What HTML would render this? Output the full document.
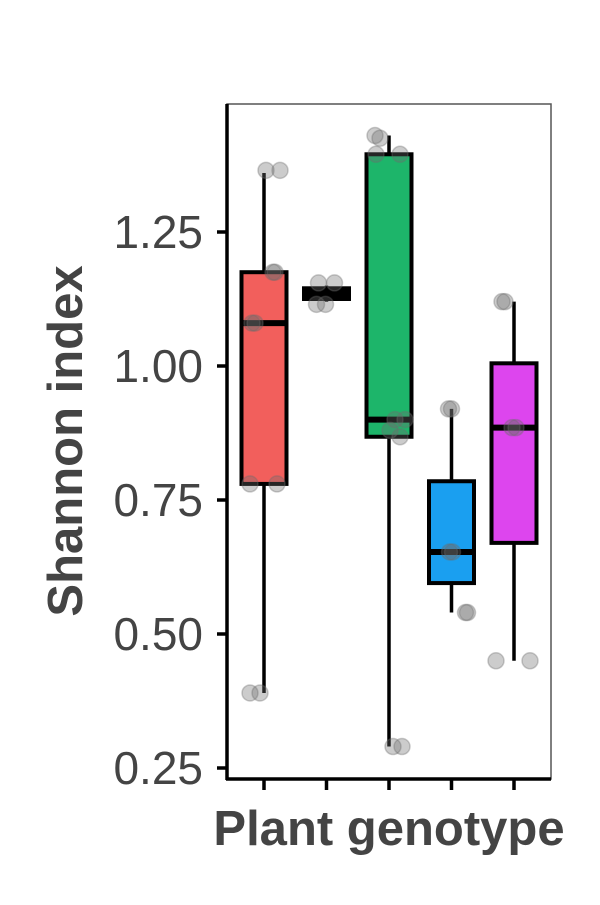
<!DOCTYPE html>
<html><head><meta charset="utf-8"><style>
body{margin:0;background:#fff;}
svg text{font-family:"Liberation Sans",Arial,sans-serif;}
</style></head><body>
<svg id="chart" width="600" height="900">
<rect x="227" y="104" width="324" height="675" fill="#fff" stroke="#555" stroke-width="1.5"/>
<g id="marks"></g>
<line x1="227" y1="104" x2="227" y2="780" stroke="#000" stroke-width="3.5"/>
<line x1="226" y1="779" x2="551" y2="779" stroke="#000" stroke-width="3.5"/>
<g id="axes"></g>
<text x="82" y="441" transform="rotate(-90 82 441)" text-anchor="middle" font-size="49" font-weight="bold" fill="#444">Shannon index</text>
<text x="389" y="845" text-anchor="middle" font-size="49" font-weight="bold" fill="#444">Plant genotype</text>
</svg>
<script>
const ticks=[0.25,0.5,0.75,1.0,1.25];
const tickLabels=["0.25","0.50","0.75","1.00","1.25"];
const groups=["g1","g2","g3","g4","g5"];
const colors=["#f25f5c","#000000","#1db56a","#1a9ff0","#dd45ee"];
const lows=[0.39,1.12,0.29,0.54,0.45];
const q1s=[0.78,1.125,0.868,0.595,0.67];
const medians=[1.08,1.135,0.90,0.653,0.885];
const q3s=[1.175,1.145,1.395,0.785,1.005];
const highs=[1.36,1.15,1.43,0.92,1.12];
const pointGroups=[0,0,0,0,0,0,0,0,0,0,1,1,1,1,2,2,2,2,2,2,2,2,2,2,3,3,3,3,3,3,4,4,4,4,4,4];
const pointValues=[0.39,0.39,1.08,1.08,0.78,0.78,1.365,1.365,1.175,1.175,1.155,1.155,1.115,1.115,1.43,1.425,1.395,1.395,0.90,0.90,0.88,0.868,0.29,0.29,0.92,0.92,0.653,0.653,0.54,0.54,1.12,1.12,0.885,0.885,0.45,0.45];
const pointJitter=[-14,-4,-12,-9,-14,13,2,16,9,11,-8,8,-10,-1,-14,-9,-13,11,6,16,1,11,4,13,-3,0,-2,1,14,16,-12,-9,-2,2,-18,16];
const NS="http://www.w3.org/2000/svg";
const y=v=>366-(v-1)*536;
const x=i=>264+i*62.5;
const bw=45;
const m=document.getElementById('marks'),ax=document.getElementById('axes');
function mk(tag,at,parent){const e=document.createElementNS(NS,tag);for(const k in at)e.setAttribute(k,at[k]);parent.appendChild(e);return e;}
ticks.forEach((t,i)=>{
 const l=mk('line',{x1:217,x2:227,y1:y(t),y2:y(t),stroke:'#000','stroke-width':3.5},ax);
 
 
 const tx=mk('text',{x:203,y:y(t)+16,'text-anchor':'end','font-size':46,fill:'#444'},ax);
 tx.textContent=tickLabels[i];
 
 
});
groups.forEach((g,i)=>{
 const t=mk('line',{x1:x(i),x2:x(i),y1:779,y2:790,stroke:'#000','stroke-width':3.5},ax);
 
 
 const w=mk('line',{x1:x(i),x2:x(i),y1:y(lows[i]),y2:y(highs[i]),stroke:'#000','stroke-width':3.5},m);
 
 
 const b=mk('rect',{x:x(i)-bw/2,y:y(q3s[i]),width:bw,height:y(q1s[i])-y(q3s[i]),fill:colors[i],stroke:'#000','stroke-width':4},m);
 
 
 const md=mk('line',{x1:x(i)-bw/2,x2:x(i)+bw/2,y1:y(medians[i]),y2:y(medians[i]),stroke:'#000','stroke-width':6},m);
 
 
});
pointValues.forEach((v,k)=>{
 const c=mk('circle',{cx:x(pointGroups[k])+pointJitter[k],cy:y(v),r:8,fill:'rgba(110,110,110,0.35)',stroke:'rgba(110,110,110,0.35)','stroke-width':1.5},m);
 
 
});
</script>
</body></html>
